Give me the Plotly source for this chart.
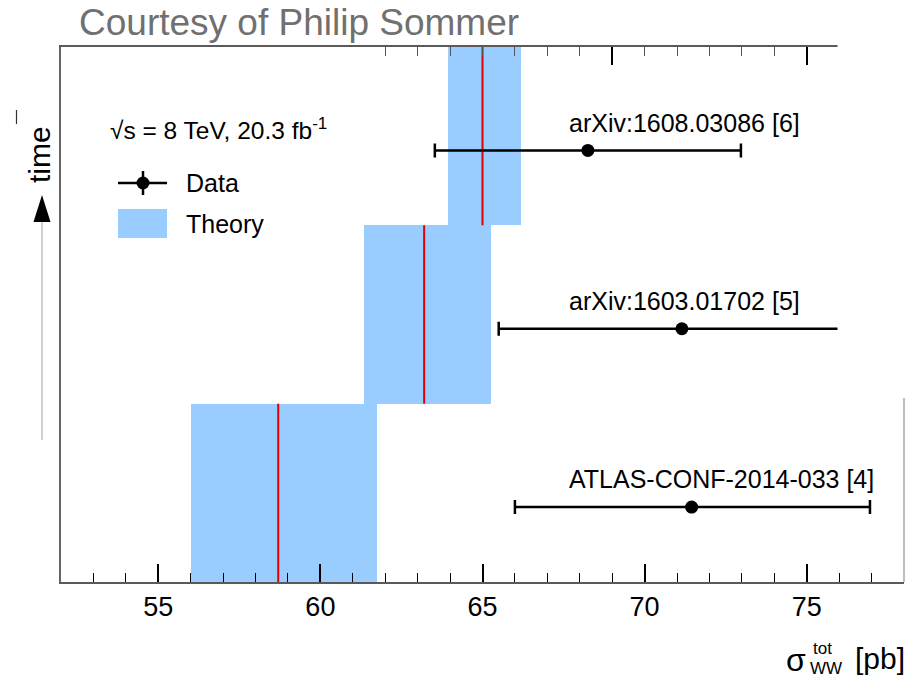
import plotly.graph_objects as go

# ---------------- data ----------------
refs = ["ATLAS-CONF-2014-033 [4]", "arXiv:1603.01702 [5]", "arXiv:1608.03086 [6]"]
slot = [0, 1, 2]                      # position along the "time" axis
data_val = [71.45, 71.15, 68.25]
data_err_lo = [5.45, 5.65, 4.72]
data_err_hi = [5.5, 6.0, 4.72]
theory_central = [58.7, 63.2, 65.0]
theory_lo = [56.0, 61.35, 63.95]
theory_hi = [61.75, 65.25, 66.2]
x_ticks = [55, 60, 65, 70, 75]
x_ticktext = ["55", "60", "65", "70", "75"]

FONT = "Liberation Sans, Arial, Helvetica, sans-serif"
BLUE = "#99ccff"
RED = "#e00000"

W, H = 914, 677
L, R, T, B = 61, 904, 47, 582


def px(x):
    return (x - L) / (R - L)


def py(y):
    return (B - y) / (B - T)


fig = go.Figure()

# theory bands
fig.add_trace(go.Bar(
    orientation="h",
    y=[s + 0.5 for s in slot],
    x=[hi - lo for lo, hi in zip(theory_lo, theory_hi)],
    base=theory_lo,
    width=1,
    marker=dict(color=BLUE, line=dict(width=0)),
    hoverinfo="skip",
))

# theory central lines
lx, ly = [], []
for s, c in zip(slot, theory_central):
    lx += [c, c, None]
    ly += [s, s + 1, None]
fig.add_trace(go.Scatter(x=lx, y=ly, mode="lines",
                         line=dict(color=RED, width=2), hoverinfo="skip"))

# data points
fig.add_trace(go.Scatter(
    x=data_val,
    y=[s + 0.42 for s in slot],
    mode="markers",
    marker=dict(color="black", size=13),
    error_x=dict(type="data", symmetric=False, array=data_err_hi,
                 arrayminus=data_err_lo, color="black", thickness=2.5, width=7),
))

# invisible helper for top tick axis
fig.add_trace(go.Scatter(x=[52], y=[0], xaxis="x2", mode="markers",
                         marker=dict(opacity=0), hoverinfo="skip"))

annotations = []
for s, name in zip(slot, refs):
    annotations.append(dict(x=67.6, y=s + 0.575, xref="x", yref="y", text=name,
                            showarrow=False, xanchor="left", yanchor="middle",
                            font=dict(family=FONT, size=25, color="black")))

# title
annotations.append(dict(x=px(77), y=py(22), xref="paper", yref="paper",
                        text="Courtesy of Philip Sommer", showarrow=False,
                        xanchor="left", yanchor="middle",
                        font=dict(family=FONT, size=37, color="#707070")))
# legend texts
annotations.append(dict(x=px(108), y=py(128), xref="paper", yref="paper",
                        text="\u221As = 8 TeV, 20.3 fb<sup>-1</sup>", showarrow=False,
                        xanchor="left", yanchor="middle",
                        font=dict(family=FONT, size=24.5, color="black")))
annotations.append(dict(x=px(184), y=py(183), xref="paper", yref="paper",
                        text="Data", showarrow=False, xanchor="left", yanchor="middle",
                        font=dict(family=FONT, size=25, color="black")))
annotations.append(dict(x=px(184), y=py(224), xref="paper", yref="paper",
                        text="Theory", showarrow=False, xanchor="left", yanchor="middle",
                        font=dict(family=FONT, size=25, color="black")))
# time label
annotations.append(dict(x=px(39), y=py(155), xref="paper", yref="paper",
                        text="time", showarrow=False, textangle=-90,
                        xanchor="center", yanchor="middle",
                        font=dict(family=FONT, size=30, color="black")))
# x axis title
annotations += [
    dict(x=px(796), y=py(660), xref="paper", yref="paper", text="\u03c3",
         showarrow=False, xanchor="center", yanchor="middle",
         font=dict(family=FONT, size=32, color="black")),
    dict(x=px(811), y=py(648), xref="paper", yref="paper", text="tot",
         showarrow=False, xanchor="left", yanchor="middle",
         font=dict(family=FONT, size=17, color="black")),
    dict(x=px(808), y=py(668), xref="paper", yref="paper", text="WW",
         showarrow=False, xanchor="left", yanchor="middle",
         font=dict(family=FONT, size=17, color="black")),
    dict(x=px(853), y=py(658), xref="paper", yref="paper", text="[pb]",
         showarrow=False, xanchor="left", yanchor="middle",
         font=dict(family=FONT, size=30, color="black")),
]

shapes = [
    # mask (top right corner of the composite picture is blanked)
    dict(type="rect", xref="paper", yref="paper", x0=px(837.5), x1=px(916),
         y0=py(398), y1=py(-2), fillcolor="white", line=dict(width=0), layer="above"),
    # right frame line (lower part only)
    dict(type="line", xref="paper", yref="paper", x0=px(904), x1=px(904),
         y0=py(398), y1=0, line=dict(color="#aaaaaa", width=1.5), layer="above"),
    # legend: data symbol
    dict(type="line", xref="paper", yref="paper", x0=px(118), x1=px(167),
         y0=py(183), y1=py(183), line=dict(color="black", width=2.5)),
    dict(type="line", xref="paper", yref="paper", x0=px(143), x1=px(143),
         y0=py(171), y1=py(195), line=dict(color="black", width=2.5)),
    dict(type="circle", xref="paper", yref="paper", x0=px(136.5), x1=px(149.5),
         y0=py(176.5), y1=py(189.5), fillcolor="black", line=dict(width=0)),
    # legend: theory box
    dict(type="rect", xref="paper", yref="paper", x0=px(118), x1=px(167),
         y0=py(238), y1=py(209), fillcolor=BLUE, line=dict(width=0)),
    # time arrow: shaft and head
    dict(type="line", xref="paper", yref="paper", x0=px(42), x1=px(42),
         y0=py(440), y1=py(220), line=dict(color="#c0c0c0", width=1.5)),
    dict(type="path", xref="paper", yref="paper",
         path="M {} {} L {} {} L {} {} Z".format(px(33.5), py(222), px(50.5), py(222), px(42), py(195)),
         fillcolor="black", line=dict(width=0)),
    # small mark at far left
    dict(type="line", xref="paper", yref="paper", x0=px(16.5), x1=px(16.5),
         y0=py(110), y1=py(124), line=dict(color="#333333", width=1.2)),
]

fig.update_layout(
    width=W, height=H,
    margin=dict(l=L, r=W - R, t=T, b=H - B, pad=0),
    paper_bgcolor="white", plot_bgcolor="white",
    showlegend=False,
    bargap=0,
    font=dict(family=FONT, color="black"),
    xaxis=dict(
        range=[52, 78], showgrid=False, zeroline=False,
        tickmode="array", tickvals=x_ticks, ticktext=x_ticktext,
        ticks="inside", ticklen=18, tickwidth=1.5, tickcolor="black",
        tickfont=dict(family=FONT, size=27, color="black"),
        minor=dict(ticks="inside", ticklen=9, tickwidth=1.2, tickcolor="black",
                   dtick=1, tick0=52, showgrid=False),
        showline=True, linecolor="#5a5a5a", linewidth=2, mirror=True,
    ),
    xaxis2=dict(
        overlaying="x", side="top", anchor="y", range=[52, 78],
        showgrid=False, zeroline=False, showline=False, showticklabels=False,
        tickmode="array", tickvals=[69, 75],
        ticks="inside", ticklen=18, tickwidth=1.5, tickcolor="black",
        minor=dict(ticks="inside", ticklen=9, tickwidth=1.2, tickcolor="#555555",
                   tickmode="array", tickvals=list(range(62, 77)), showgrid=False),
    ),
    yaxis=dict(range=[0, 3], showgrid=False, zeroline=False, showticklabels=False,
               ticks="", showline=True, linecolor="#666666", linewidth=1.5),
    annotations=annotations,
    shapes=shapes,
)

fig.write_html("out.html")
